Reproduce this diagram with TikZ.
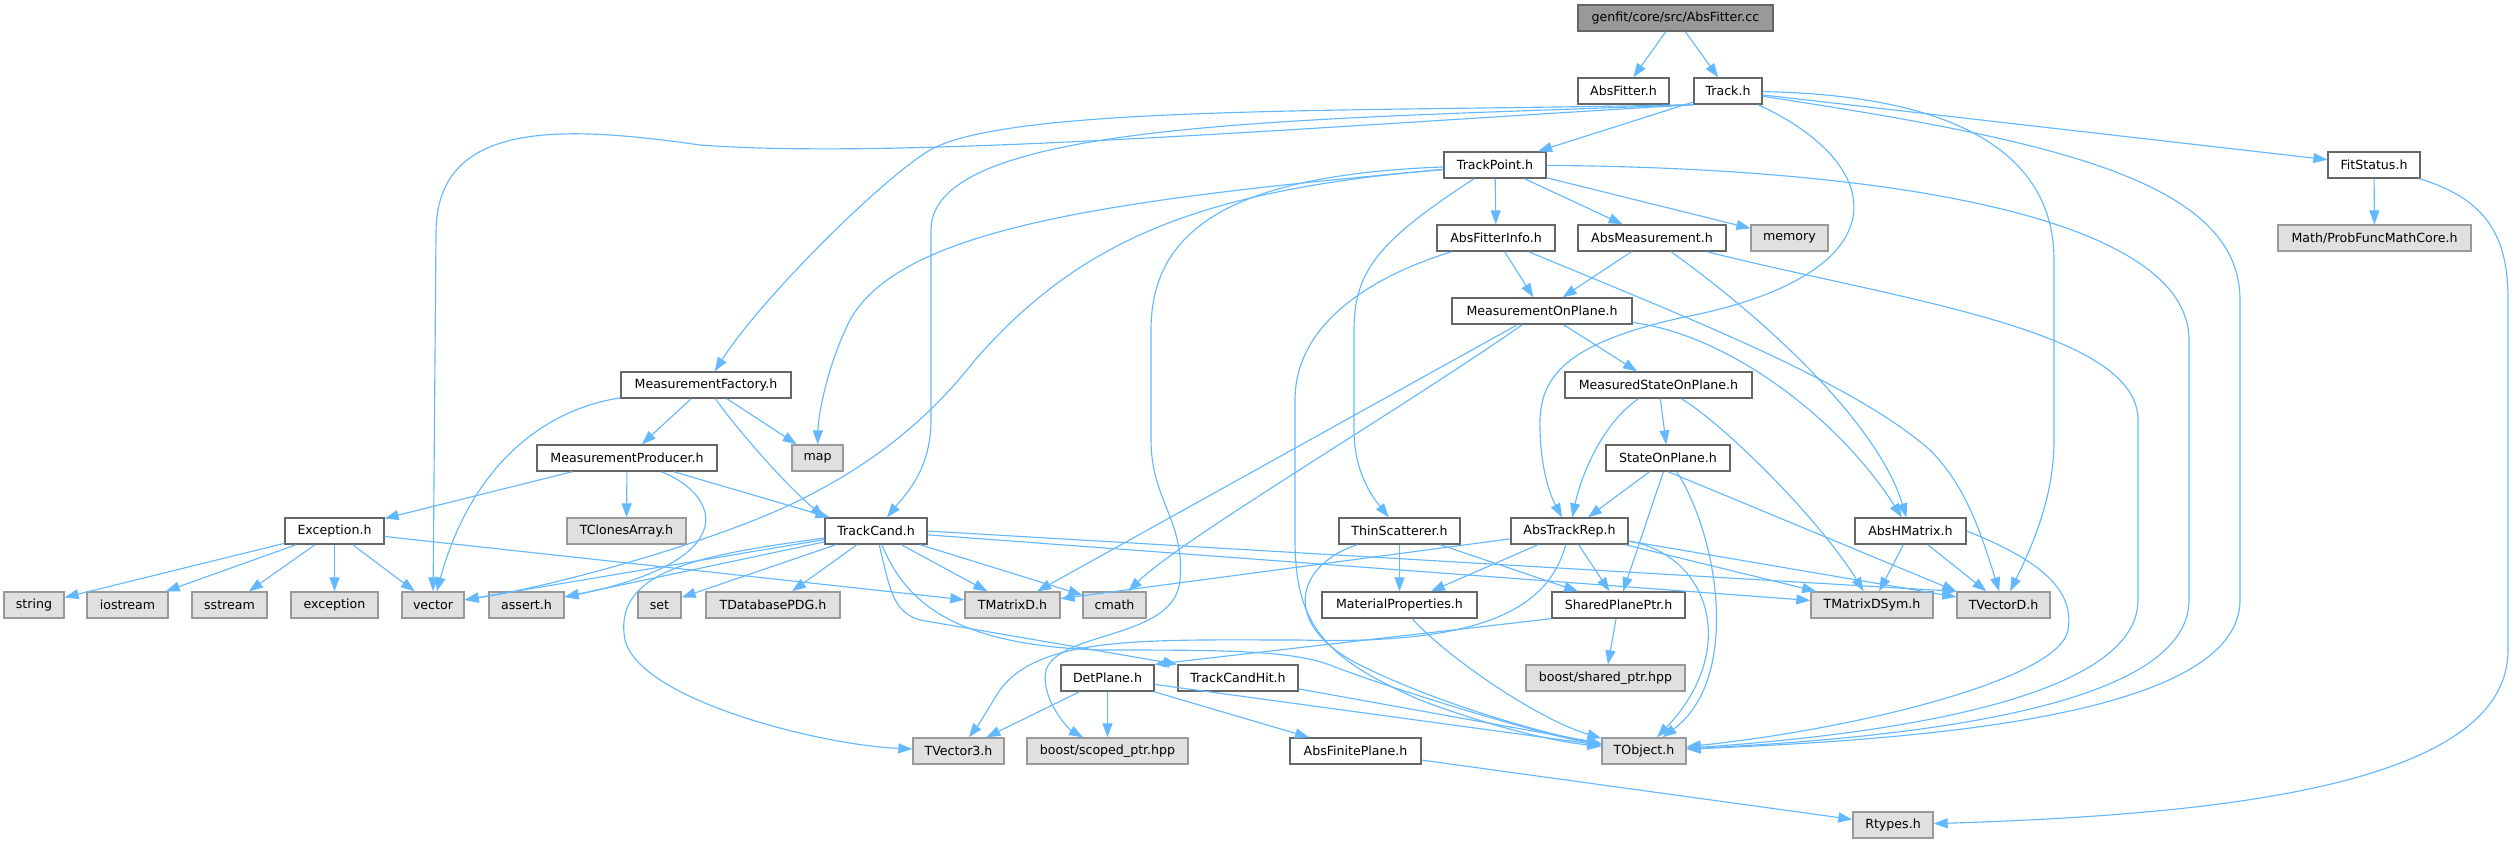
\documentclass[tikz,border=0pt]{standalone}
\usepackage{fontspec}
\setmainfont{DejaVu Sans}
\usetikzlibrary{arrows.meta}
\definecolor{edgeblue}{HTML}{63B8FF}
\definecolor{sysfill}{HTML}{E0E0E0}
\definecolor{sysdraw}{HTML}{999999}
\definecolor{hdrdraw}{HTML}{666666}
\begin{document}
\begin{tikzpicture}[x=0.75pt,y=-0.75pt,% 1 unit = 1 pixel of the graph, y downwards
	filebox/.style={rectangle,inner sep=0pt,minimum height=19.5pt,line width=1pt,font=\fontsize{9.45}{11}\selectfont},
	hdr/.style={filebox,draw=hdrdraw,fill=white},
	sys/.style={filebox,draw=sysdraw,fill=sysfill},
	srcfile/.style={filebox,draw=hdrdraw,fill=sysdraw},
	boxw/.style={minimum width=#1*0.75pt},
	dep/.style={edgeblue,line width=0.85pt,-{Triangle[length=10.5pt,width=7.5pt]}}]
	\useasboundingbox (0,0) rectangle (2515,843);

	\node[srcfile,boxw=195] (root) at (1675.5,18) {genfit/core/src/AbsFitter.cc};
	\node[hdr,boxw=91] (absfitter) at (1623.5,91) {AbsFitter.h};
	\node[hdr,boxw=68] (track) at (1728,91) {Track.h};
	\node[hdr,boxw=102] (trackpoint) at (1495,165) {TrackPoint.h};
	\node[hdr,boxw=92] (fitstatus) at (2374,165) {FitStatus.h};
	\node[hdr,boxw=118] (absfitterinfo) at (1496,238) {AbsFitterInfo.h};
	\node[hdr,boxw=148] (absmeas) at (1652,238) {AbsMeasurement.h};
	\node[sys,boxw=77] (memory) at (1789.5,238) {memory};
	\node[sys,boxw=193] (probfunc) at (2374.5,238) {Math/ProbFuncMathCore.h};
	\node[hdr,boxw=180] (measonplane) at (1542,311) {MeasurementOnPlane.h};
	\node[hdr,boxw=170] (measfactory) at (706,385) {MeasurementFactory.h};
	\node[hdr,boxw=187] (measstate) at (1658.5,385) {MeasuredStateOnPlane.h};
	\node[hdr,boxw=180] (measproducer) at (627,458) {MeasurementProducer.h};
	\node[sys,boxw=51] (map) at (817.5,458) {map};
	\node[hdr,boxw=124] (stateonplane) at (1668,458) {StateOnPlane.h};
	\node[hdr,boxw=99] (exception) at (334.5,531) {Exception.h};
	\node[sys,boxw=119] (tclones) at (626.5,531) {TClonesArray.h};
	\node[hdr,boxw=102] (trackcand) at (876,531) {TrackCand.h};
	\node[hdr,boxw=121] (thinscat) at (1399.5,531) {ThinScatterer.h};
	\node[hdr,boxw=117] (abstrackrep) at (1569.5,531) {AbsTrackRep.h};
	\node[hdr,boxw=111] (abshmatrix) at (1910.5,531) {AbsHMatrix.h};
	\foreach \n/\x/\w/\lab in {string/34/60/string,iostream/127.5/81/iostream,sstream/229.5/75/sstream,
		excstd/334.5/87/exception,vector/433/62/vector,assert/526.5/75/assert.h,set/659.5/43/set,
		tdbpdg/773/134/TDatabasePDG.h,tmatrixd/1012.5/95/TMatrixD.h,cmath/1114.5/63/cmath,
		tmatrixdsym/1872/122/TMatrixDSym.h,tvectord/2003.5/93/TVectorD.h}{
		\node[sys,boxw=\w] (\n) at (\x,605) {\lab};}
	\node[hdr,boxw=155] (matprops) at (1399.5,605) {MaterialProperties.h};
	\node[hdr,boxw=133] (sharedplane) at (1618.5,605) {SharedPlanePtr.h};
	\node[hdr,boxw=93] (detplane) at (1107.5,678) {DetPlane.h};
	\node[hdr,boxw=120] (trackcandhit) at (1238,678) {TrackCandHit.h};
	\node[sys,boxw=159] (sharedptr) at (1605.5,678) {boost/shared\_ptr.hpp};
	\node[sys,boxw=91] (tvector3) at (958.5,751) {TVector3.h};
	\node[sys,boxw=161] (scopedptr) at (1107.5,751) {boost/scoped\_ptr.hpp};
	\node[hdr,boxw=131] (absfinite) at (1355.5,751) {AbsFinitePlane.h};
	\node[sys,boxw=84] (tobject) at (1644,751) {TObject.h};
	\node[sys,boxw=80] (rtypes) at (1893,825) {Rtypes.h};

	% straight includes
	\foreach \a/\b in {root/absfitter,root/track,track/trackpoint,track/fitstatus,fitstatus/probfunc,
		trackpoint/absfitterinfo,trackpoint/absmeas,trackpoint/memory,absfitterinfo/measonplane,
		absmeas/measonplane,measonplane/measstate,measonplane/tmatrixd,measstate/stateonplane,
		stateonplane/abstrackrep,stateonplane/sharedplane,measfactory/measproducer,measfactory/map,
		measproducer/exception,measproducer/tclones,measproducer/trackcand,exception/string,
		exception/iostream,exception/sstream,exception/excstd,exception/vector,exception/tmatrixd,
		trackcand/vector,trackcand/assert,trackcand/set,trackcand/tdbpdg,trackcand/tmatrixd,
		trackcand/cmath,trackcand/tmatrixdsym,thinscat/matprops,thinscat/sharedplane,
		abstrackrep/tmatrixd,abstrackrep/matprops,abstrackrep/sharedplane,abstrackrep/tmatrixdsym,
		abstrackrep/tvectord,abshmatrix/tmatrixdsym,abshmatrix/tvectord,sharedplane/sharedptr,
		detplane/tvector3,detplane/scopedptr,detplane/absfinite,detplane/tobject,
		trackcandhit/tobject,absfinite/rtypes}{
		\draw[dep] (\a) -- (\b);}
	\draw[dep] (trackcand.east) -- (tvectord.north west);
	\draw[dep] (stateonplane.south) -- (tvectord.north west);
	\draw[dep] (sharedplane.south west) -- (detplane.north east);

	% curved includes
	\draw[dep] (track.south west) .. controls (1350,112) and (1010,105) .. (930,150) .. controls (880,180) and (760,300) .. (measfactory);
	\draw[dep] (track.south west) .. controls (1300,120) and (931,120) .. (931,230) -- (931,420) .. controls (931,470) and (905,495) .. (trackcand);
	\draw[dep] (track.south west) .. controls (1300,128) and (900,160) .. (700,145) .. controls (560,125) and (436,120) .. (436,233) -- (vector);
	\draw[dep] (track) .. controls (1890,165) and (1905,275) .. (1680,318) .. controls (1560,345) and (1538,380) .. (1540,430) .. controls (1541,470) and (1550,495) .. (abstrackrep);
	\draw[dep] (track) .. controls (1950,95) and (2054,150) .. (2054,260) -- (2054,440) .. controls (2054,500) and (2030,550) .. (tvectord);
	\draw[dep] (track) .. controls (2050,140) and (2240,180) .. (2240,300) -- (2240,600) .. controls (2240,720) and (1900,740) .. (tobject);
	\draw[dep] (fitstatus) .. controls (2490,200) and (2508,240) .. (2508,300) -- (2508,650) .. controls (2508,790) and (2200,815) .. (rtypes);
	\draw[dep] (trackpoint) .. controls (1100,200) and (900,230) .. (850,320) .. controls (825,370) and (818,420) .. (map);
	\draw[dep] (trackpoint) .. controls (1200,190) and (1080,240) .. (975,360) .. controls (920,430) and (860,470) .. (800,500) .. controls (720,540) and (560,585) .. (vector);
	\draw[dep] (trackpoint) .. controls (1380,240) and (1354,270) .. (1354,330) -- (1354,430) .. controls (1354,475) and (1375,500) .. (thinscat);
	\draw[dep] (trackpoint) .. controls (1230,175) and (1151,230) .. (1151,330) -- (1151,440) .. controls (1151,500) and (1185,520) .. (1180,580) .. controls (1175,640) and (1060,630) .. (1046,670) .. controls (1040,700) and (1070,730) .. (scopedptr);
	\draw[dep] (trackpoint) .. controls (1900,168) and (2189,220) .. (2189,340) -- (2189,600) .. controls (2189,710) and (1900,738) .. (tobject);
	\draw[dep] (absmeas) .. controls (1900,300) and (2138,330) .. (2138,420) -- (2138,600) .. controls (2138,700) and (1880,735) .. (tobject);
	\draw[dep] (absmeas) .. controls (1780,330) and (1880,430) .. (abshmatrix);
	\draw[dep] (absfitterinfo) .. controls (1680,315) and (1850,380) .. (1930,450) .. controls (1965,485) and (1980,530) .. (tvectord);
	\draw[dep] (absfitterinfo) .. controls (1360,280) and (1295,330) .. (1295,400) -- (1295,540) .. controls (1295,630) and (1330,660) .. (1420,700) .. controls (1500,730) and (1560,742) .. (tobject);
	\draw[dep] (measonplane) .. controls (1730,335) and (1840,420) .. (abshmatrix);
	\draw[dep] (measonplane) .. controls (1400,410) and (1180,540) .. (cmath);
	\draw[dep] (measstate) .. controls (1600,425) and (1580,480) .. (abstrackrep);
	\draw[dep] (measstate) .. controls (1725,425) and (1820,520) .. (tmatrixdsym);
	\draw[dep] (stateonplane) .. controls (1720,540) and (1740,680) .. (tobject);
	\draw[dep] (abstrackrep) .. controls (1710,555) and (1740,650) .. (tobject);
	\draw[dep] (abstrackrep) .. controls (1548,610) and (1480,645) .. (1300,640) .. controls (1150,640) and (1040,635) .. (1000,690) .. controls (990,705) and (982,720) .. (tvector3);
	\draw[dep] (abshmatrix.east) .. controls (2040,560) and (2075,590) .. (2068,630) .. controls (2060,680) and (1850,730) .. (tobject);
	\draw[dep] (thinscat) .. controls (1295,565) and (1280,625) .. (1360,665) .. controls (1440,705) and (1550,735) .. (tobject);
	\draw[dep] (matprops) .. controls (1450,660) and (1540,720) .. (tobject);
	\draw[dep] (measfactory) .. controls (540,410) and (470,470) .. (vector);
	\draw[dep] (measfactory) .. controls (730,420) and (780,480) .. (trackcand.north west);
	\draw[dep] (measproducer) .. controls (720,495) and (745,560) .. (assert);
	\draw[dep] (trackcand) .. controls (890,590) and (893,612) .. (920,620) -- (trackcandhit.north west);
	\draw[dep] (trackcand) .. controls (905,600) and (950,645) .. (1100,650) .. controls (1220,650) and (1290,650) .. (1330,665) .. controls (1380,685) and (1540,735) .. (tobject);
	\draw[dep] (trackcand) .. controls (700,555) and (612,570) .. (625,640) .. controls (640,700) and (820,745) .. (tvector3);
\end{tikzpicture}
\end{document}
